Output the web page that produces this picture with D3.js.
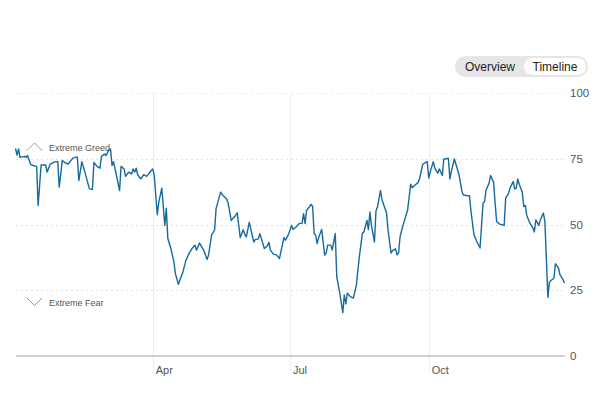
<!DOCTYPE html>
<html lang="en">
<head>
<meta charset="utf-8">
<title>Fear &amp; Greed timeline</title>
<script src="https://cdn.jsdelivr.net/npm/d3@7"></script>
<style>
  body { margin: 0; background: #fff; font-family: Arial, "Liberation Sans", sans-serif; }
  svg { display: block; }
</style>
</head>
<body>
<script>
// days since 2024-01-01
var days = [0,1,2,3,6,7,8,10,11,14,15,17,20,21,23,26,28,29,31,33,35,38,41,42,44,46,49,51,52,54,
  56,57,59,60,62,63,64,65,66,69,70,72,73,75,77,78,79,80,81,83,85,87,90,91,92,94,95,97,99,100,
  101,103,105,106,108,111,113,115,117,119,120,122,125,127,128,130,132,133,136,137,140,141,143,144,146,147,149,151,152,153,
  155,158,159,161,162,165,167,168,169,171,173,175,178,179,181,183,184,186,188,190,191,192,193,196,
  197,198,199,200,201,203,205,206,207,209,210,212,213,215,217,218,219,220,222,224,226,227,228,230,
  231,233,234,235,236,238,239,240,242,243,246,247,249,250,252,253,254,255,257,260,262,263,265,267,
  268,270,272,273,274,275,277,278,280,281,283,284,285,287,288,289,291,292,294,296,297,299,301,302,
  304,306,308,310,311,312,314,315,317,318,319,321,324,325,327,328,330,331,332,333,334,336,337,338,
  339,341,343,344,345,347,348,350,351,353,354,357,358,360,361,363,364];
var values = [79,76.5,78.8,75.6,76,75.6,76.3,73,72.6,72.2,57.3,72.7,72.7,70,73,73.9,74,64.3,74.4,73.5,73.1,75.3,75.8,66.8,74,70,63.6,63.4,73.7,72.2,
  71.5,76,76.9,76.3,78.5,78.8,72.5,74,71.2,63,72.2,71.2,68.4,70,69.3,71.2,70,71.5,69,67.4,69,68.4,70.6,71.2,68.7,53.8,58.6,63.9,49.7,56.3,
  44.7,40.9,35.9,31.4,27.3,32,36.4,39,40.9,42.2,40.3,43,40,36.7,38.4,46,47.9,56.1,62.4,61.5,59.8,58.2,51.6,52.3,53.5,54.5,45.1,48.1,46.3,45.3,
  50.9,43.4,44.3,44.6,46.6,40.9,42,43.3,40.3,38.8,38.5,37.1,45.1,44.1,46.3,49.7,48.2,49.1,50.4,50.6,54.2,50.4,55.4,57.7,
  56.9,46.6,46,42.8,45.1,48.2,38.4,39.3,42.2,42.2,40.3,46.6,30.2,23.9,16.5,23.2,19.8,23.9,22.6,22,27,32.7,37.8,46.8,
  47.2,51.6,48.1,54.8,49.7,43.4,55.2,56.7,63,59.5,54.4,48,39.2,40.1,40.8,38.5,39.2,45.5,49.9,55.6,65.4,64.1,65.1,66.1,
  67.7,73,73.7,74,67.7,70.2,74,71.5,69.6,71.2,68.7,75,75,75.3,67.4,70.4,75,73,69.2,62.6,61.3,61.1,61,55,
  46.1,43.4,41.1,58.2,58.8,63.2,65.8,68.7,66.1,58.2,51.2,50.2,49.7,60.1,62,64.1,66.4,63.6,63.9,67.4,65.4,62.3,56.9,57.3,
  53.5,50.6,48.9,47.2,51.8,49.7,51.8,54.4,51.2,22.3,28.2,29.7,35.1,33.5,31,29.1,27.8];

var yTicks = [0, 25, 50, 75, 100];
var monthTicks = ["2024-04-01", "2024-07-01", "2024-10-01"];
var monthLabels = ["Apr", "Jul", "Oct"];
var zones = ["Extreme Greed", "Extreme Fear"];
var buttons = ["Overview", "Timeline"];

var W = 606, H = 397;
var start = new Date(2024, 0, 1);
var parse = d3.timeParse("%Y-%m-%d");

var data = days.map(function(d, i) {
  return { date: d3.timeDay.offset(start, d), value: values[i] };
});

var x = d3.scaleTime()
  .domain([start, new Date(2024, 11, 31)])
  .range([15.5, 566]);
var y = d3.scaleLinear().domain([0, 100]).range([356, 93.3]);

var svg = d3.select("body").append("svg")
  .attr("width", W).attr("height", H);

// toggle buttons
var btn = svg.append("g").attr("transform", "translate(455,56)");
btn.append("rect").attr("width", 133).attr("height", 21).attr("rx", 10.5).attr("fill", "#e6e6e6");
btn.append("rect").attr("x", 69).attr("y", 2).attr("width", 62).attr("height", 17).attr("rx", 8.5).attr("fill", "#fff");
btn.selectAll("text.btn").data(buttons).enter().append("text")
  .attr("class", "btn")
  .attr("x", function(d, i) { return i === 0 ? 35 : 100; })
  .attr("y", 14.5)
  .attr("text-anchor", "middle")
  .attr("font-size", 12)
  .attr("fill", "#222")
  .text(function(d) { return d; });

// vertical month gridlines
var months = monthTicks.map(function(d) { return parse(d); });
svg.selectAll("line.vgrid").data(months).enter().append("line")
  .attr("class", "vgrid")
  .attr("x1", function(d) { return Math.round(x(d)) + 0.5; })
  .attr("x2", function(d) { return Math.round(x(d)) + 0.5; })
  .attr("y1", y(100)).attr("y2", 374)
  .attr("stroke", "#efefef").attr("stroke-width", 1);

svg.selectAll("text.month").data(months).enter().append("text")
  .attr("class", "month")
  .attr("x", function(d) { return x(d) + 3; })
  .attr("y", 374)
  .attr("font-size", 11)
  .attr("fill", "#555")
  .text(function(d, i) { return monthLabels[i]; });

// horizontal gridlines
svg.selectAll("line.hgrid").data(yTicks.filter(function(t) { return t > 0; })).enter().append("line")
  .attr("class", "hgrid")
  .attr("x1", 16).attr("x2", 565)
  .attr("y1", function(d) { return Math.round(y(d)) + 0.5; })
  .attr("y2", function(d) { return Math.round(y(d)) + 0.5; })
  .attr("stroke", function(d) { return d === 100 ? "#ececec" : "#e3e3e3"; })
  .attr("stroke-dasharray", "2,3");

svg.append("line")
  .attr("x1", 16).attr("x2", 565)
  .attr("y1", y(0)).attr("y2", y(0))
  .attr("stroke", "#cfcfcf").attr("stroke-width", 2);

svg.selectAll("text.ytick").data(yTicks).enter().append("text")
  .attr("class", "ytick")
  .attr("x", 570)
  .attr("y", function(d) { return y(d) + 4; })
  .attr("font-size", 11.5)
  .attr("fill", "#555")
  .text(function(d) { return d; });

// zone annotations
var zoneG = svg.selectAll("g.zone").data(zones).enter().append("g")
  .attr("class", "zone")
  .attr("transform", function(d, i) { return "translate(27," + (i === 0 ? 142 : 297) + ")"; });
zoneG.append("path")
  .attr("d", function(d, i) { return i === 0 ? "M0,8.5L7.5,1L15,8.5" : "M0,1L7.5,8.5L15,1"; })
  .attr("fill", "none").attr("stroke", "#999").attr("stroke-width", 1);
zoneG.append("text")
  .attr("x", 22).attr("y", 8.5)
  .attr("font-size", 9)
  .attr("fill", "#555")
  .text(function(d) { return d; });

// index line
var line = d3.line()
  .x(function(d) { return x(d.date); })
  .y(function(d) { return y(d.value); });

svg.append("path")
  .datum(data)
  .attr("d", line)
  .attr("fill", "none")
  .attr("stroke", "#16699c")
  .attr("stroke-width", 1.4)
  .attr("stroke-linejoin", "round");
</script>
</body>
</html>
